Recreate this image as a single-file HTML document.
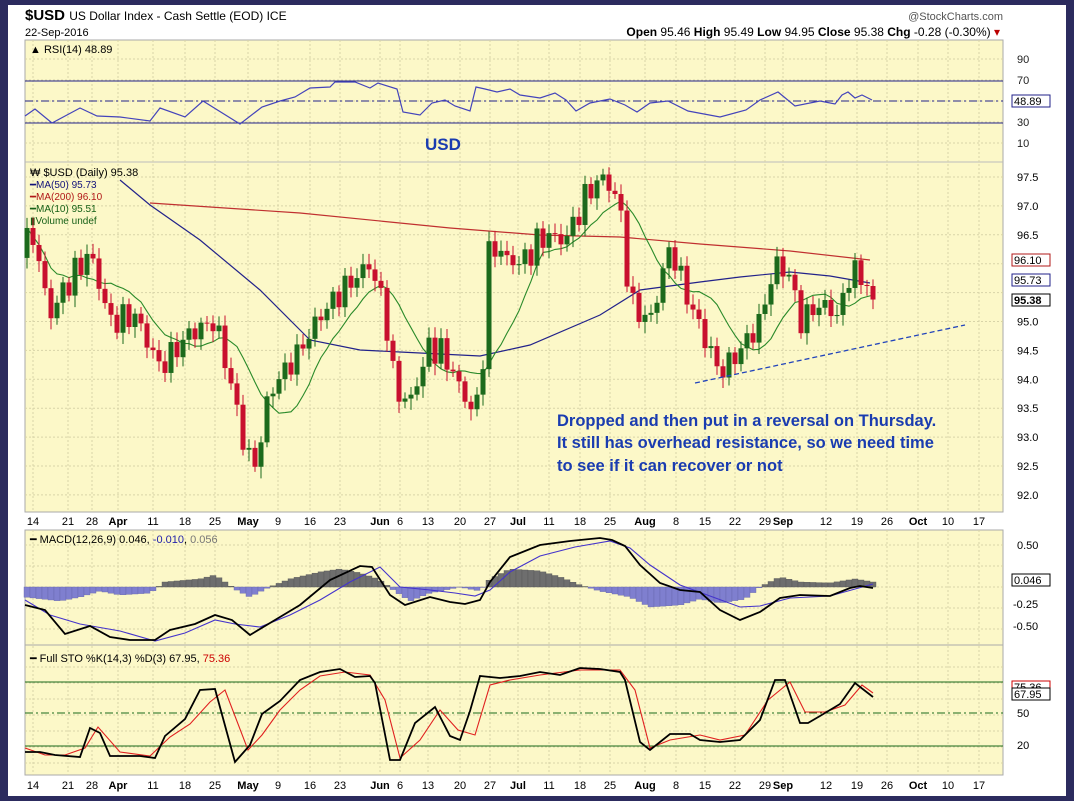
<!DOCTYPE html>
<html><head><meta charset="utf-8"><style>
body{margin:0;width:1074px;height:801px;background:#2c2b5e;overflow:hidden;font-family:"Liberation Sans",sans-serif}
#w{position:absolute;left:8px;top:5px;width:1058px;height:791px;background:#fff}
svg{position:absolute;left:0;top:0}
</style></head><body>
<div id="w"></div>
<svg id="s" width="1074" height="801" xmlns="http://www.w3.org/2000/svg" font-family="Liberation Sans, sans-serif">
<rect x="25" y="40" width="978" height="472" fill="#fcf8c8" stroke="#aaa"/>
<rect x="25" y="530" width="978" height="115" fill="#fcf8c8" stroke="#aaa"/>
<rect x="25" y="645" width="978" height="130" fill="#fcf8c8" stroke="#aaa"/>
<line x1="25" y1="162" x2="1003" y2="162" stroke="#bbb"/>
<g id="grid" stroke="#d8d4a8" stroke-dasharray="2,2"></g>
<text x="25" y="20" font-size="15" font-weight="bold">$USD <tspan font-size="12" font-weight="normal">US Dollar Index - Cash Settle (EOD) ICE</tspan></text>
<text x="25" y="36" font-size="11">22-Sep-2016</text>
<text x="1003" y="20" font-size="11" fill="#555" text-anchor="end">@StockCharts.com</text>
<text x="1000" y="36" font-size="12" text-anchor="end"><tspan font-weight="bold">Open</tspan> 95.46 <tspan font-weight="bold">High</tspan> 95.49 <tspan font-weight="bold">Low</tspan> 94.95 <tspan font-weight="bold">Close</tspan> 95.38 <tspan font-weight="bold">Chg</tspan> -0.28 (-0.30%) <tspan fill="#b00">▾</tspan></text>
<text x="30" y="53" font-size="11">▲ RSI(14) 48.89</text>
<text x="425" y="150" font-size="17" font-weight="bold" fill="#1a3cb0">USD</text>
<line x1="25" y1="81" x2="1003" y2="81" stroke="#22228a"/>
<line x1="25" y1="123" x2="1003" y2="123" stroke="#22228a"/>
<line x1="25" y1="101" x2="1003" y2="101" stroke="#22228a" stroke-dasharray="8,3,2,3"/>
<polyline id="rsi" fill="none" stroke="#4444bb" stroke-width="1.2"/>
<g font-size="11" fill="#222"><text x="1017" y="63">90</text><text x="1017" y="84">70</text><text x="1017" y="126">30</text><text x="1017" y="147">10</text></g>
<g id="pl" font-size="11"></g>
<text x="30" y="176" font-size="11">₩ $USD (Daily) 95.38</text>
<text x="30" y="188" font-size="10" fill="#12127a">━MA(50) 95.73</text>
<text x="30" y="200" font-size="10" fill="#b01818">━MA(200) 96.10</text>
<text x="30" y="212" font-size="10" fill="#166016">━MA(10) 95.51</text>
<text x="30" y="224" font-size="10" fill="#166016">▮Volume undef</text>
<polyline id="ma200" fill="none" stroke="#c03030" stroke-width="1.2"/>
<polyline id="ma50" fill="none" stroke="#22228a" stroke-width="1.2"/>
<polyline id="ma10" fill="none" stroke="#2a8a2a" stroke-width="1.1"/>
<g id="candles"></g>
<line x1="695" y1="383" x2="965" y2="325" stroke="#2244bb" stroke-width="1.3" stroke-dasharray="5,3"/>
<g font-size="16.5" font-weight="bold" fill="#1a3cb0"><text x="557" y="426">Dropped and then put in a reversal on Thursday.</text><text x="557" y="448">It still has overhead resistance, so we need time</text><text x="557" y="471">to see if it can recover or not</text></g>
<g id="xl1" font-size="11"></g><g id="xl2" font-size="11"></g>
<text x="30" y="543" font-size="11">━ MACD(12,26,9) 0.046, <tspan fill="#2222aa">-0.010</tspan>, <tspan fill="#777">0.056</tspan></text>
<g id="hist"></g>
<polyline id="sig" fill="none" stroke="#4433cc" stroke-width="1.1"/>
<polyline id="macd" fill="none" stroke="#000" stroke-width="1.8"/>
<g font-size="11"><text x="1017" y="549">0.50</text><text x="1013" y="608">-0.25</text><text x="1013" y="630">-0.50</text></g>
<text x="30" y="662" font-size="11">━ Full STO %K(14,3) %D(3) 67.95, <tspan fill="#c00">75.36</tspan></text>
<line x1="25" y1="682" x2="1003" y2="682" stroke="#1a6a1a"/>
<line x1="25" y1="746" x2="1003" y2="746" stroke="#1a6a1a"/>
<line x1="25" y1="713" x2="1003" y2="713" stroke="#1a6a1a" stroke-dasharray="8,3,2,3"/>
<polyline id="d" fill="none" stroke="#e02020" stroke-width="1.1"/>
<polyline id="k" fill="none" stroke="#000" stroke-width="1.8"/>
<g font-size="11"><text x="1017" y="717">50</text><text x="1017" y="749">20</text></g>
<g font-size="11" fill="#000">
<rect x="1012" y="95" width="38" height="12" fill="#fff" stroke="#22228a"/><text x="1014" y="105">48.89</text>
<rect x="1012" y="254" width="38" height="12" fill="#fff" stroke="#b01818"/><text x="1014" y="264">96.10</text>
<rect x="1012" y="274" width="38" height="12" fill="#fff" stroke="#22228a"/><text x="1014" y="284">95.73</text>
<rect x="1012" y="294" width="38" height="12" fill="#fff" stroke="#000"/><text x="1014" y="304" font-weight="bold">95.38</text>
<rect x="1012" y="574" width="38" height="12" fill="#fff" stroke="#000"/><text x="1014" y="584">0.046</text>
<rect x="1012" y="681" width="38" height="12" fill="#fff" stroke="#c00"/><text x="1014" y="691">75.36</text>
<rect x="1012" y="688" width="38" height="12" fill="#fff" stroke="#000"/><text x="1014" y="698">67.95</text>
</g>
</svg>
<script>
const S="http://www.w3.org/2000/svg";
function el(p,t,a,tx){const e=document.createElementNS(S,t);for(const k in a)e.setAttribute(k,a[k]);if(tx)e.textContent=tx;document.getElementById(p).appendChild(e);return e;}
const dates=[[33,"14"],[68,"21"],[92,"28"],[118,"Apr",1],[153,"11"],[185,"18"],[215,"25"],[248,"May",1],[278,"9"],[310,"16"],[340,"23"],[380,"Jun",1],[400,"6"],[428,"13"],[460,"20"],[490,"27"],[518,"Jul",1],[549,"11"],[580,"18"],[610,"25"],[645,"Aug",1],[676,"8"],[705,"15"],[735,"22"],[765,"29"],[783,"Sep",1],[826,"12"],[857,"19"],[887,"26"],[918,"Oct",1],[948,"10"],[979,"17"]];
dates.forEach(d=>{
 el("grid","line",{x1:d[0],y1:40,x2:d[0],y2:512});el("grid","line",{x1:d[0],y1:530,x2:d[0],y2:775});
 ["xl1","xl2"].forEach((g,i)=>{const t=el(g,"text",{x:d[0],y:i?789:525,"text-anchor":"middle"},d[1]);if(d[2])t.setAttribute("font-weight","bold");});
});
for(let y=59;y<162;y+=21)el("grid","line",{x1:25,y1:y,x2:1003,y2:y});
const py=p=>177+(97.5-p)*57.8;
[97.5,97.0,96.5,96.0,95.5,95.0,94.5,94.0,93.5,93.0,92.5,92.0].forEach(p=>{el("grid","line",{x1:25,y1:py(p),x2:1003,y2:py(p)});if(Math.abs(p-96)>0.01&&Math.abs(p-95.5)>0.01)el("pl","text",{x:1017,y:py(p)+4},p.toFixed(1));});
for(let y=545;y<645;y+=21)el("grid","line",{x1:25,y1:y,x2:1003,y2:y});
for(let y=667;y<775;y+=16)el("grid","line",{x1:25,y1:y,x2:1003,y2:y});
function interp(pts,x){for(let i=1;i<pts.length;i++)if(x<=pts[i][0]){const a=pts[i-1],b=pts[i];return a[1]+(b[1]-a[1])*(x-a[0])/(b[0]-a[0]);}return pts[pts.length-1][1];}
const kp=[[25,96.3],[33,96.5],[50,95.1],[65,95.6],[90,96.2],[110,95.0],[135,95.1],[160,94.2],[190,94.8],[215,95.0],[230,94.0],[245,92.8],[255,92.5],[270,93.8],[300,94.5],[320,95.1],[340,95.5],[370,96.0],[385,95.2],[395,93.8],[410,93.6],[430,94.6],[445,94.4],[470,93.5],[480,93.6],[490,96.4],[505,96.1],[520,96.0],[545,96.5],[565,96.4],[590,97.3],[605,97.5],[620,97.0],[630,95.3],[650,95.0],[670,96.3],[690,95.3],[710,94.5],[720,94.1],[740,94.5],[760,95.0],[775,96.0],[790,95.8],[800,95.0],[820,95.3],[840,95.1],[850,95.9],[865,95.7],[873,95.4]];
const xs=[],cl=[];for(let x=27;x<=873;x+=6){xs.push(x);cl.push(interp(kp,x)+0.18*Math.sin(x*1.7)+0.1*Math.sin(x*0.53));}
cl[cl.length-1]=95.38;
let pc=96.1;
xs.forEach((x,i)=>{const o=pc,c=cl[i];const up=c>=o;const col=up?"#1c6a1c":"#c8102e";const h=Math.max(o,c)+0.08+0.1*Math.abs(Math.sin(x)),l=Math.min(o,c)-0.08-0.12*Math.abs(Math.cos(x*1.3));
 el("candles","line",{x1:x,y1:py(h),x2:x,y2:py(l),stroke:col});
 const y1=py(Math.max(o,c)),y2=py(Math.min(o,c));el("candles","rect",{x:x-2.5,y:y1,width:5,height:Math.max(1,y2-y1),fill:col});pc=c;});
let m=[];xs.forEach((x,i)=>{const s=cl.slice(Math.max(0,i-9),i+1);m.push(x+","+py(s.reduce((a,b)=>a+b)/s.length).toFixed(1));});
document.getElementById("ma10").setAttribute("points",m.join(" "));
document.getElementById("ma200").setAttribute("points","150,203 300,213 450,228 540,235 620,237 700,244 790,251 870,260");
document.getElementById("ma50").setAttribute("points","120,180 150,205 200,240 260,290 310,340 360,350 400,352 480,356 530,345 600,315 640,290 700,282 740,277 790,272 830,276 870,283");
document.getElementById("rsi").setAttribute("points","25,116 35,109 52,123 80,108 97,116 120,117 150,121 160,108 185,117 203,101 240,124 262,107 280,101 295,97 310,88 330,87 335,82 355,82 370,88 378,83 397,89 403,112 420,115 432,103 445,100 455,106 470,111 476,87 485,89 497,92 510,89 520,95 540,98 555,93 566,100 576,111 590,103 610,99 625,105 637,112 650,103 668,101 688,111 720,117 746,110 760,100 778,92 795,106 820,101 835,104 842,95 848,92 855,98 862,95 872,100");
const hp=[[25,-10],[60,-14],[80,-10],[100,-4],[120,-8],[150,-6],[165,5],[200,8],[215,12],[235,-2],[250,-10],[265,-2],[290,8],[320,15],[340,18],[360,14],[378,8],[395,-4],[410,-14],[430,-6],[460,0],[480,-4],[490,8],[510,18],[540,16],[560,10],[580,2],[600,-4],[630,-10],[650,-20],[680,-18],[700,-12],[720,-16],[745,-12],[760,0],[780,10],[800,5],[830,4],[855,8],[873,5]];
for(let x=27;x<=873;x+=6){const v=interp(hp,x);el("hist","rect",{x:x-3,y:v>0?587-v:587,width:6,height:Math.abs(v),fill:v>0?"#6e6e6e":"#7f7fcf",stroke:v>0?"#555":"#6666aa","stroke-width":0.4});}
document.getElementById("macd").setAttribute("points","25,605 45,610 65,634 90,626 110,637 130,640 155,640 170,630 195,624 215,615 232,620 250,635 270,623 300,605 330,580 360,566 372,567 390,595 405,605 430,597 450,602 465,604 480,600 490,582 510,557 540,545 570,541 600,538 612,540 625,546 640,565 660,583 680,590 700,592 720,610 740,620 760,612 780,598 800,595 830,596 850,588 860,586 873,588");
document.getElementById("sig").setAttribute("points","25,600 50,615 80,624 120,631 155,641 185,633 215,620 235,624 260,627 290,615 320,600 350,582 380,567 400,587 430,590 455,593 475,596 490,590 510,572 540,556 575,547 610,541 630,548 650,565 680,585 710,596 740,607 760,606 790,598 830,596 873,584");
document.getElementById("k").setAttribute("points","25,752 40,752 55,755 80,757 90,728 100,733 110,756 140,756 155,758 165,736 185,719 200,690 215,689 235,762 250,745 262,714 280,701 300,680 320,672 340,669 355,677 370,676 375,683 390,760 400,760 415,723 435,707 450,736 460,740 470,711 480,676 500,678 520,676 540,672 560,675 580,668 600,669 620,672 625,680 640,742 650,750 670,734 690,734 700,740 720,742 740,740 760,720 775,680 785,680 800,723 808,723 820,716 840,704 855,683 873,697");
document.getElementById("d").setAttribute("points","25,748 45,755 65,755 85,748 98,727 120,752 150,756 170,737 190,724 210,702 225,690 248,750 262,735 280,710 300,690 320,676 345,672 370,675 385,700 400,758 420,740 440,710 458,730 475,735 490,685 510,680 540,675 580,670 620,670 635,690 650,748 670,740 700,735 720,740 745,735 768,700 790,682 805,712 825,712 845,705 862,685 873,693");
</script>
</body></html>
